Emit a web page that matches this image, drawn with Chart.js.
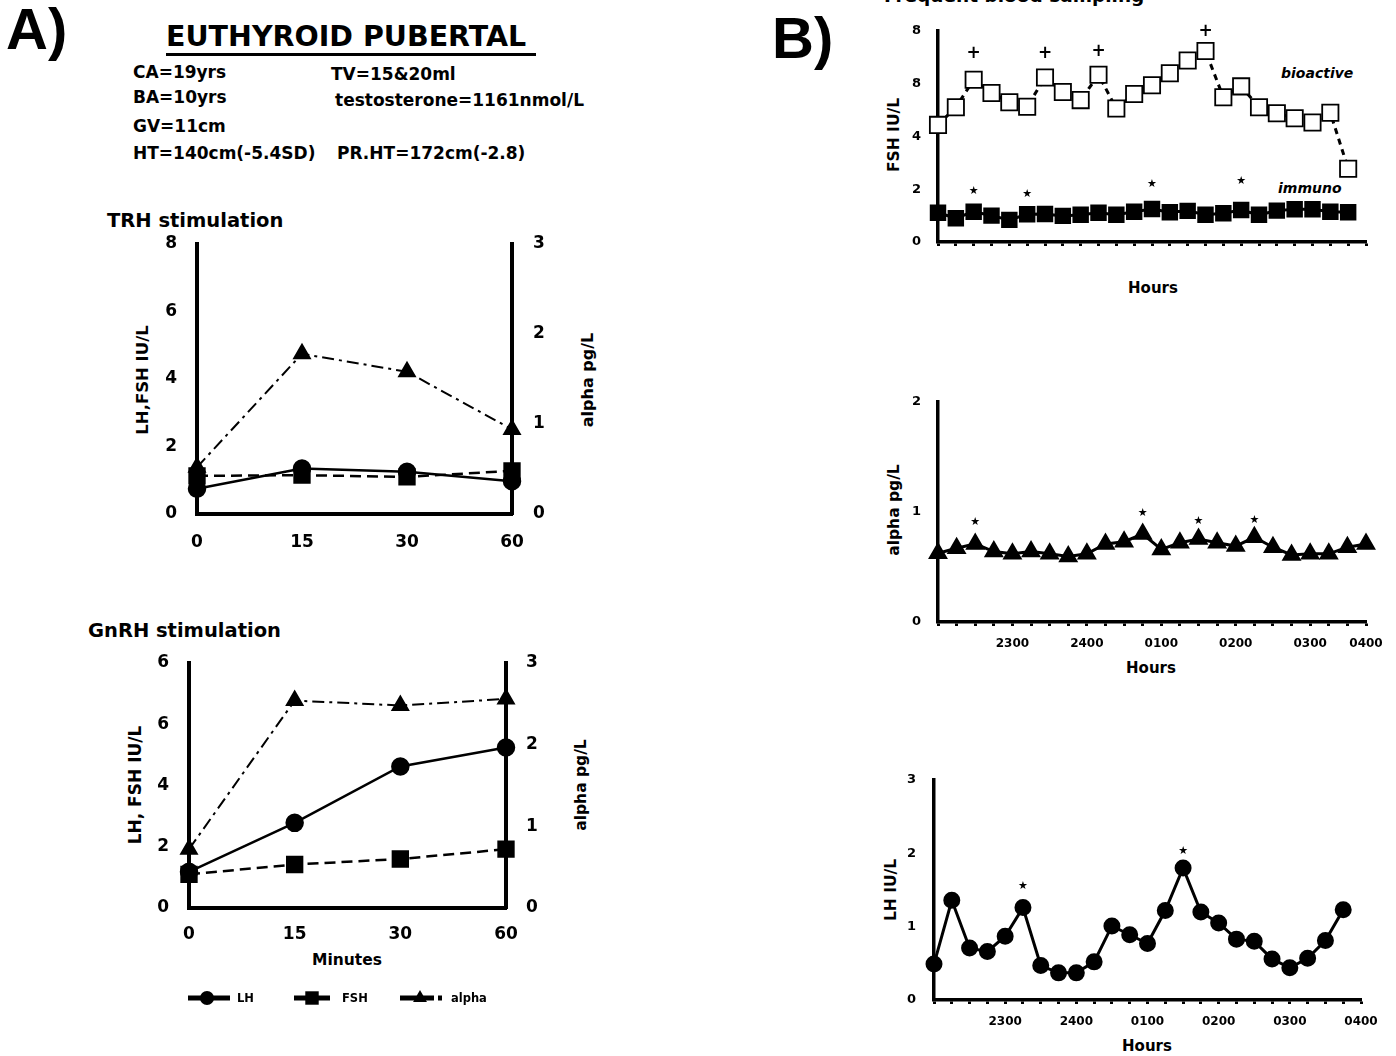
<!DOCTYPE html>
<html><head><meta charset="utf-8">
<script src="https://cdn.jsdelivr.net/npm/chart.js@4.4.1/dist/chart.umd.min.js"></script>
<style>
html,body{margin:0;padding:0;background:#fff;}
body{width:1396px;height:1056px;position:relative;overflow:hidden;font-family:"DejaVu Sans",sans-serif;font-weight:bold;color:#000;}
.t{position:absolute;white-space:nowrap;line-height:1;}
.c{position:absolute;white-space:nowrap;line-height:1;transform:translateX(-50%);}
.r{position:absolute;white-space:nowrap;line-height:1;transform:translate(-50%,-50%) rotate(-90deg);}
.box{position:absolute;}
</style></head><body>

<div class="t" style="left:6px;top:0px;font-family:'Liberation Sans',Arial,sans-serif;font-size:58px;">A)</div>
<div class="t" style="left:772px;top:9px;font-family:'Liberation Sans',Arial,sans-serif;font-size:58px;">B)</div>
<div class="t" style="left:166px;top:23px;font-size:28.5px;">EUTHYROID PUBERTAL</div>
<div style="position:absolute;left:166px;top:53px;width:370px;height:3px;background:#000;"></div>
<div class="t" style="left:133px;top:64px;font-size:17px;">CA=19yrs</div>
<div class="t" style="left:331px;top:66px;font-size:17px;">TV=15&amp;20ml</div>
<div class="t" style="left:133px;top:89px;font-size:17px;">BA=10yrs</div>
<div class="t" style="left:335px;top:92px;font-size:17px;">testosterone=1161nmol/L</div>
<div class="t" style="left:133px;top:118px;font-size:17px;">GV=11cm</div>
<div class="t" style="left:133px;top:145px;font-size:17px;">HT=140cm(-5.4SD)</div>
<div class="t" style="left:337px;top:145px;font-size:17px;">PR.HT=172cm(-2.8)</div>
<div class="t" style="left:107px;top:211px;font-size:19.5px;">TRH stimulation</div>
<div class="t" style="left:88px;top:621px;font-size:19.5px;">GnRH stimulation</div>
<div class="c" style="left:347px;top:953px;font-size:15.5px;">Minutes</div>

<div class="r" style="left:143px;top:380px;font-size:16.5px;">LH,FSH IU/L</div>
<div class="r" style="left:588px;top:380px;font-size:16px;">alpha pg/L</div>
<div class="r" style="left:135px;top:785px;font-size:17px;">LH, FSH IU/L</div>
<div class="r" style="left:582px;top:785px;font-size:15.5px;">alpha pg/L</div>

<div class="t" style="left:884px;top:-13px;font-size:18.5px;">Frequent blood sampling</div>
<div class="r" style="left:895px;top:135px;font-size:15.5px;">FSH IU/L</div>
<div class="r" style="left:895px;top:510px;font-size:15.5px;">alpha pg/L</div>
<div class="r" style="left:892px;top:890px;font-size:15.5px;">LH IU/L</div>
<div class="c" style="left:1153px;top:281px;font-size:15px;">Hours</div>
<div class="c" style="left:1151px;top:661px;font-size:15px;">Hours</div>
<div class="c" style="left:1147px;top:1039px;font-size:15px;">Hours</div>
<div class="t" style="left:1281px;top:66px;font-size:14px;font-style:italic;">bioactive</div>
<div class="t" style="left:1278px;top:181px;font-size:14px;font-style:italic;">immuno</div>

<div class="box" style="left:100px;top:228px;width:540px;height:332px;"><canvas id="trh"></canvas></div>
<div class="box" style="left:90px;top:648px;width:540px;height:372px;"><canvas id="gnrh"></canvas></div>
<div class="box" style="left:860px;top:15px;width:536px;height:245px;"><canvas id="fsh"></canvas></div>
<div class="box" style="left:860px;top:386px;width:536px;height:274px;"><canvas id="alpha"></canvas></div>
<div class="box" style="left:856px;top:765px;width:540px;height:291px;"><canvas id="lh"></canvas></div>

<script>
// ---------- DATA ----------
const trhMinutes = ['0', '15', '30', '60'];
const trhLH = [0.75, 1.35, 1.25, 0.97];
const trhFSH = [1.13, 1.15, 1.1, 1.28];
const trhAlpha = [0.52, 1.78, 1.58, 0.94];
const trhLeftTicks = ['0', '2', '4', '6', '8'];
const trhRightTicks = ['0', '1', '2', '3'];

const gnrhMinutes = ['0', '15', '30', '60'];
const gnrhLH = [1.18, 2.78, 4.62, 5.24];
const gnrhFSH = [1.1, 1.42, 1.6, 1.92];
const gnrhAlpha = [0.72, 2.54, 2.48, 2.56];
const gnrhLeftTicks = ['0', '2', '4', '6', '6'];
const gnrhRightTicks = ['0', '1', '2', '3'];
const seriesNames = ['LH', 'FSH', 'alpha'];

const fshBioactive = [4.44, 5.11, 6.15, 5.65, 5.3, 5.13, 6.24, 5.69, 5.38, 6.34, 5.06, 5.61,
                      5.94, 6.4, 6.88, 7.24, 5.49, 5.9, 5.11, 4.88, 4.69, 4.53, 4.9, 2.78];
const fshImmuno = [1.11, 0.9, 1.15, 1.0, 0.84, 1.05, 1.06, 0.99, 1.03, 1.11, 1.03, 1.15,
                   1.25, 1.13, 1.18, 1.03, 1.09, 1.21, 1.03, 1.19, 1.24, 1.24, 1.15, 1.13];
const fshLeftTicks = ['0', '2', '4', '8', '8'];
const fshPlusIdx = [2, 6, 9, 15];
const fshPlusVal = [7.15, 7.15, 7.21, 7.96];
const fshStarIdx = [2, 5, 12, 17];
const fshStarVal = [1.94, 1.81, 2.18, 2.31];

const alphaPulse = [0.625, 0.67, 0.71, 0.64, 0.62, 0.64, 0.62, 0.595, 0.62, 0.71, 0.73, 0.80,
                    0.66, 0.72, 0.755, 0.72, 0.69, 0.77, 0.68, 0.61, 0.62, 0.62, 0.68, 0.71];
const alphaStarIdx = [2, 11, 14, 17];
const alphaStarVal = [0.91, 0.99, 0.92, 0.93];

const lhPulse = [0.49, 1.36, 0.71, 0.66, 0.87, 1.26, 0.47, 0.37, 0.37, 0.52, 1.01, 0.89,
                 0.77, 1.22, 1.80, 1.20, 1.05, 0.83, 0.80, 0.56, 0.44, 0.57, 0.81, 1.23];
const lhStarIdx = [5, 14];
const lhStarVal = [1.55, 2.03];

const hourLabels = ['2300', '2400', '0100', '0200', '0300', '0400'];
const alphaHourIdx = [4, 8, 12, 16, 20, 23];
const lhHourIdx = [4, 8, 12, 16, 20, 24];

// ---------- SETUP ----------
Chart.defaults.font.family = '"DejaVu Sans", sans-serif';
Chart.defaults.font.weight = 'bold';
Chart.defaults.color = '#000';
Chart.defaults.animation = false;

const fixW = w => s => { s.width = w; s.paddingTop = 0; s.paddingBottom = 0; };
const fixH = h => s => { s.height = h; s.paddingLeft = 0; s.paddingRight = 0; };
const pts = arr => arr.map((v, i) => ({x: i, y: v}));

const marksPlugin = {
  id: 'marks',
  afterDatasetsDraw(chart, args, opts) {
    const {ctx, scales} = chart;
    (opts.items || []).forEach(it => {
      ctx.save();
      ctx.font = it.font; ctx.fillStyle = '#000';
      ctx.textAlign = 'center'; ctx.textBaseline = 'middle';
      it.idx.forEach((ix, k) => {
        ctx.fillText(it.char, scales.x.getPixelForValue(ix), scales.y.getPixelForValue(it.val[k]));
      });
      ctx.restore();
    });
  }
};

const legendPlugin = {
  id: 'lineLegend',
  afterDraw(chart, args, opts) {
    if (!opts.items) return;
    const ctx = chart.ctx;
    opts.items.forEach(it => {
      const ds = chart.data.datasets[it.ds];
      ctx.save();
      ctx.strokeStyle = '#000'; ctx.fillStyle = '#000'; ctx.lineWidth = 5;
      ctx.beginPath(); ctx.moveTo(it.x0, opts.y); ctx.lineTo(it.x1, opts.y); ctx.stroke();
      if (it.extra) { ctx.fillRect(it.extra[0], opts.y - 2.5, it.extra[1] - it.extra[0], 5); }
      Chart.helpers.drawPoint(ctx, {pointStyle: ds.pointStyle, radius: it.r, rotation: 0, borderWidth: 0}, it.m, opts.y);
      ctx.font = 'bold 11.5px "DejaVu Sans"'; ctx.textBaseline = 'middle'; ctx.textAlign = 'left';
      ctx.fillText(ds.label, it.tx, opts.y + 1);
      ctx.restore();
    });
  }
};

function aChart(id, labels, lh, fsh, alpha, leftTicks, rightTicks, g, legend) {
  return new Chart(document.getElementById(id), {
    type: 'line',
    data: {labels, datasets: [
      {label: seriesNames[0], data: lh, yAxisID: 'y', borderColor: '#000', borderWidth: 2.5,
       pointStyle: 'circle', pointRadius: 8, pointBackgroundColor: '#000', pointBorderColor: '#000', clip: false},
      {label: seriesNames[1], data: fsh, yAxisID: 'y', borderColor: '#000', borderWidth: 2.5, borderDash: [11, 6],
       pointStyle: 'rect', pointRadius: 10.5, pointBackgroundColor: '#000', pointBorderColor: '#000', clip: false},
      {label: seriesNames[2], data: alpha, yAxisID: 'y2', borderColor: '#000', borderWidth: 2, borderDash: [12, 5, 3, 5],
       pointStyle: 'triangle', pointRadius: 9, pointBackgroundColor: '#000', pointBorderColor: '#000', clip: false}
    ]},
    options: {
      responsive: true, maintainAspectRatio: false, animation: false,
      layout: {padding: {top: g.padTop, left: 0, right: 0, bottom: 0}},
      plugins: {legend: {display: false}, tooltip: {enabled: false}, lineLegend: legend || {}},
      scales: {
        x: {type: 'category', offset: false, grid: {display: false},
            border: {color: '#000', width: 4},
            ticks: {font: {size: 17, weight: 'bold'}, padding: g.xPad, maxRotation: 0, autoSkip: false},
            afterFit: fixH(g.xH)},
        y: {position: 'left', min: 0, max: (leftTicks.length - 1) * 2, grid: {display: false},
            border: {color: '#000', width: 4},
            ticks: {stepSize: 2, font: {size: 17, weight: 'bold'}, padding: g.lPad,
                    callback: (v, i) => leftTicks[i]},
            afterFit: fixW(g.lW)},
        y2: {position: 'right', min: 0, max: rightTicks.length - 1, grid: {display: false},
             border: {color: '#000', width: 4},
             ticks: {stepSize: 1, font: {size: 17, weight: 'bold'}, padding: g.rPad,
                     callback: (v, i) => rightTicks[i]},
             afterFit: fixW(g.rW)}
      }
    },
    plugins: [legendPlugin]
  });
}

aChart('trh', trhMinutes, trhLH, trhFSH, trhAlpha, trhLeftTicks, trhRightTicks,
  {padTop: 16, xH: 46, xPad: 10, lW: 97, lPad: 12, rW: 128, rPad: 13});

aChart('gnrh', gnrhMinutes, gnrhLH, gnrhFSH, gnrhAlpha, gnrhLeftTicks, gnrhRightTicks,
  {padTop: 15, xH: 112, xPad: 8, lW: 99, lPad: 12, rW: 124, rPad: 12},
  {y: 350, items: [
    {ds: 0, x0: 98, x1: 140, m: 117, r: 7, tx: 147},
    {ds: 1, x0: 204, x1: 240, m: 222, r: 9.5, tx: 252},
    {ds: 2, x0: 310, x1: 344, m: 330, r: 8, tx: 361, extra: [348, 352]}
  ]});

function bChart(id, datasets, g, yTicks, yStep, xMax, xIdx, xLabels, marks) {
  const allIdx = Array.from({length: xMax + 1}, (_, i) => i);
  return new Chart(document.getElementById(id), {
    type: 'line',
    data: {datasets},
    options: {
      responsive: true, maintainAspectRatio: false, animation: false,
      layout: {padding: {top: g.padTop, left: 0, right: g.padRight, bottom: 0}},
      plugins: {legend: {display: false}, tooltip: {enabled: false}, marks: {items: marks}},
      scales: {
        x: {type: 'linear', min: 0, max: xMax,
            grid: {display: true, drawOnChartArea: false, drawTicks: true, tickLength: 4, tickWidth: 3, tickColor: '#000'},
            border: {color: '#000', width: 3.5},
            afterBuildTicks: s => { s.ticks = allIdx.map(v => ({value: v})); },
            ticks: {autoSkip: false, maxRotation: 0, font: {size: 12, weight: 'bold'}, padding: g.xPad,
                    callback: v => { const k = xIdx.indexOf(v); return k < 0 ? '' : xLabels[k]; }},
            afterFit: fixH(g.xH)},
        y: {position: 'left', min: 0, max: (yTicks.length - 1) * yStep, grid: {display: false},
            border: {color: '#000', width: 3.5},
            ticks: {stepSize: yStep, font: {size: 13, weight: 'bold'}, padding: g.lPad,
                    callback: (v, i) => yTicks[i]},
            afterFit: fixW(g.lW)}
      }
    },
    plugins: [marksPlugin]
  });
}

const plusFont = 'bold 17px "DejaVu Sans"';
const starFont = '11px "DejaVu Sans"';

bChart('fsh', [
    {label: 'bioactive', data: pts(fshBioactive), borderColor: '#000', borderWidth: 3, borderDash: [6, 5],
     pointStyle: 'rect', pointRadius: 11.5, pointBackgroundColor: '#fff', pointBorderColor: '#000', pointBorderWidth: 1.8, clip: false},
    {label: 'immuno', data: pts(fshImmuno), borderColor: '#000', borderWidth: 3,
     pointStyle: 'rect', pointRadius: 9.5, pointBackgroundColor: '#000', pointBorderColor: '#000', clip: false}
  ],
  {padTop: 16, padRight: 30, xH: 18, xPad: 4, lW: 78, lPad: 9},
  fshLeftTicks, 2, 24, [], [],
  [{char: '+', font: plusFont, idx: fshPlusIdx, val: fshPlusVal},
   {char: '★', font: starFont, idx: fshStarIdx, val: fshStarVal}]);

bChart('alpha', [
    {label: 'alpha', data: pts(alphaPulse), borderColor: '#000', borderWidth: 3,
     pointStyle: 'triangle', pointRadius: 8.5, pointBackgroundColor: '#000', pointBorderColor: '#000', clip: false}
  ],
  {padTop: 16, padRight: 30, xH: 38, xPad: 11, lW: 78, lPad: 9},
  ['0', '1', '2'], 1, 23, alphaHourIdx, hourLabels,
  [{char: '★', font: starFont, idx: alphaStarIdx, val: alphaStarVal}]);

bChart('lh', [
    {label: 'LH', data: pts(lhPulse), borderColor: '#000', borderWidth: 3,
     pointStyle: 'circle', pointRadius: 7, pointBackgroundColor: '#000', pointBorderColor: '#000', clip: false}
  ],
  {padTop: 15, padRight: 35, xH: 56, xPad: 11, lW: 78, lPad: 10},
  ['0', '1', '2', '3'], 1, 24, lhHourIdx, hourLabels,
  [{char: '★', font: starFont, idx: lhStarIdx, val: lhStarVal}]);
</script>
</body></html>
